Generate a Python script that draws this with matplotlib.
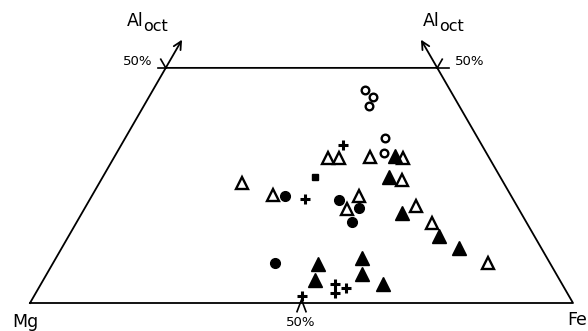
import numpy as np
import matplotlib.pyplot as plt

# compositions in percent: (Fe, Al_oct); Mg is the remainder
open_circle_fe = [39.0, 41.3, 41.5, 47.8, 49.2]
open_circle_al = [45.3, 43.8, 41.9, 35.1, 31.9]

open_tri_fe = [26.3, 33.3, 39.5, 41.5, 47.1, 53.3, 55.4, 49.2, 48.4, 60.8, 65.5, 80.1]
open_tri_al = [25.5, 23.0, 30.8, 30.8, 31.0, 30.8, 26.2, 22.8, 20.0, 20.6, 17.0, 8.5]

full_tri_fe = [51.6, 52.7, 58.9, 68.2, 73.2, 48.9, 50.0, 56.3, 58.0, 63.0]
full_tri_al = [31.3, 26.8, 19.1, 14.2, 11.7, 8.3, 4.9, 9.6, 6.2, 4.0]

full_circle_fe = [35.6, 46.0, 50.5, 50.7, 40.9]
full_circle_al = [22.8, 21.9, 20.2, 17.2, 8.5]

square_fe = [39.1]
square_al = [26.8]

plus_fe = [40.8, 39.6, 54.2, 55.1, 56.6, 49.3]
plus_al = [33.6, 22.1, 4.0, 2.1, 3.2, 1.5]

AL_CUT = 50  # diagram truncated at 50 % Al_oct
H = np.sqrt(3) / 2


def tern(fe, al):
    fe = np.asarray(fe) / 100.0
    al = np.asarray(al) / 100.0
    return fe + al / 2, al * H


fig = plt.figure(figsize=(5.88, 3.31), dpi=100)
ax = fig.add_axes([0, 0, 1, 1])
ax.set_xlim(-30 / 543, 1 + 15 / 543)
ax.set_ylim(-28 / 543, 303 / 543)
ax.axis('off')

# truncated triangle outline
tl = tern(0, AL_CUT)
tr = tern(100 - AL_CUT, AL_CUT)
ax.plot([0, 1, tr[0], tl[0], 0], [0, 0, tr[1], tl[1], 0], color='black', lw=1.3)

# Al_oct arrows continuing the side edges
for base, tip in [(tl, tern(0, 56)), (tr, tern(44, 56))]:
    ax.annotate('', xy=tip, xytext=base,
                arrowprops=dict(arrowstyle='->', color='black', lw=1.3,
                                mutation_scale=14, shrinkA=0, shrinkB=0))

# 50 % ticks
t = 10 / 543
ax.plot([tl[0] - t * 0.8, tl[0]], [tl[1], tl[1]], color='black', lw=1.2)
ax.plot([tl[0], tl[0] - t * 0.5], [tl[1], tl[1] + t * H], color='black', lw=1.2)
ax.plot([tr[0], tr[0] + t * 1.2], [tr[1], tr[1]], color='black', lw=1.2)
ax.plot([tr[0], tr[0] + t * 0.5], [tr[1], tr[1] + t * H], color='black', lw=1.2)
bm = tern(50, 0)
ax.plot([bm[0] - t * 0.45, bm[0], bm[0] + t * 0.45],
        [-t * H, 0.006, -t * H], color='black', lw=1.2)

# data
kw = dict(ls='none', color='black')
ax.plot(*tern(open_circle_fe, open_circle_al), marker='o', ms=5.5, mfc='white', mew=1.7, **kw)
ax.plot(*tern(open_tri_fe, open_tri_al), marker='^', ms=9, mfc='white', mew=1.7, **kw)
ax.plot(*tern(full_tri_fe, full_tri_al), marker='^', ms=10.5, **kw)
ax.plot(*tern(full_circle_fe, full_circle_al), marker='o', ms=7, **kw)
ax.plot(*tern(square_fe, square_al), marker='s', ms=5, **kw)
ax.plot(*tern(plus_fe, plus_al), marker='+', ms=7.5, mew=2.2, **kw)

# labels
lab = dict(textcoords='offset pixels', ha='center', va='center', color='black')
ax.annotate('Mg', xy=(0, 0), xytext=(-5, -19), fontsize=12.5, **lab)
ax.annotate('Fe', xy=(1, 0), xytext=(4, -17), fontsize=12.5, **lab)
sub = dict(lab, ha='left')
for corner, dx in [(tl, -39), (tr, -14)]:
    ax.annotate('Al', xy=corner, xytext=(dx, 47), fontsize=12.5, **sub)
    ax.annotate('oct', xy=corner, xytext=(dx + 16, 41), fontsize=11.5, **sub)
ax.annotate('50%', xy=tl, xytext=(-28, 6), fontsize=9.5, **lab)
ax.annotate('50%', xy=tr, xytext=(32, 6), fontsize=9.5, **lab)
ax.annotate('50%', xy=bm, xytext=(-1, -20), fontsize=9.5, **lab)

fig.savefig('out.png', dpi=100)
